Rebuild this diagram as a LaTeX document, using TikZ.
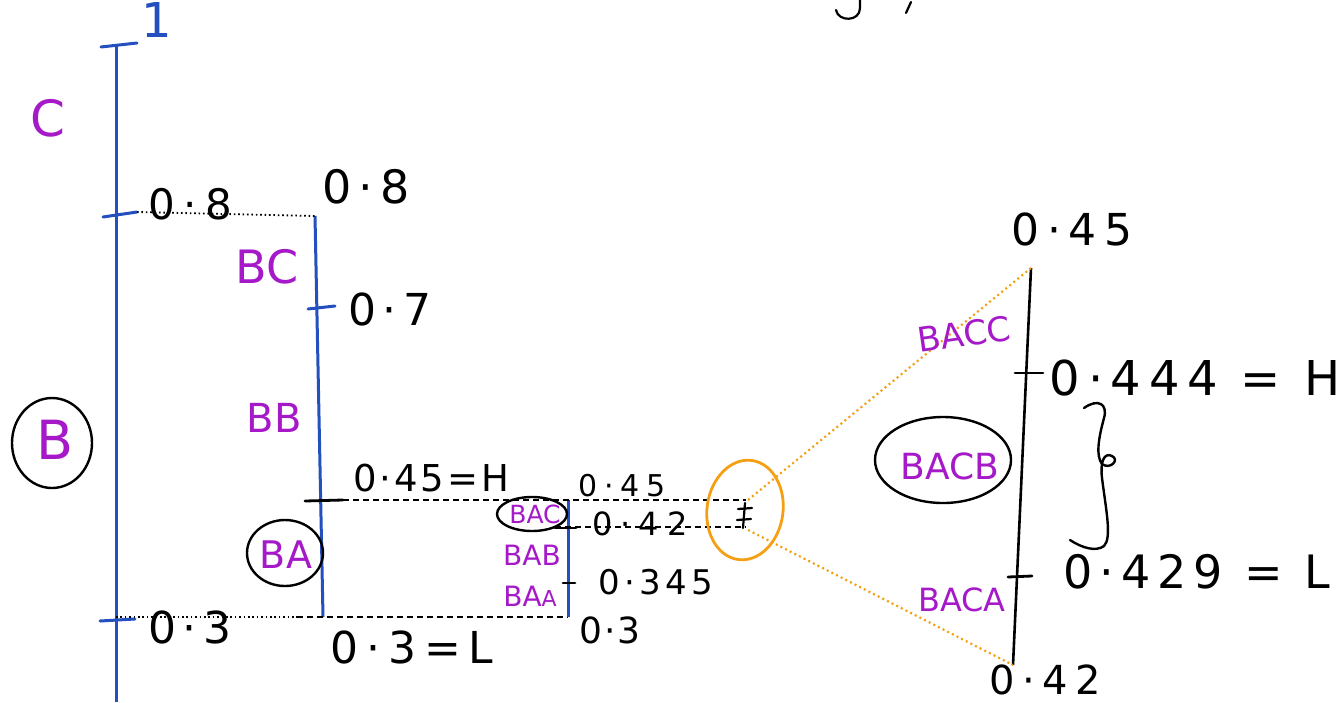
\documentclass[tikz,border=0pt]{standalone}
\usepackage{fontspec}
\setmainfont{DejaVu Sans}
\definecolor{axblue}{RGB}{35,80,190}
\definecolor{purp}{RGB}{165,25,200}
\definecolor{orng}{RGB}{245,160,20}
\newcommand{\fsz}[2]{\fontsize{#1}{#1}\selectfont\addfontfeature{LetterSpace=#2}}
\begin{document}
\begin{tikzpicture}[x=1pt,y=-1pt,
  bline/.style={draw=axblue,line width=3pt},
  kline/.style={draw=black,line width=2.6pt},
  ktick/.style={draw=black,line width=2.8pt,line cap=round},
  btick/.style={draw=axblue,line width=3pt,line cap=round},
  dotl/.style={draw=black,line width=1.8pt,dash pattern=on 1.6pt off 2.8pt},
  dashl/.style={draw=black,line width=2pt,dash pattern=on 6pt off 4pt},
  odot/.style={draw=orng,line width=2.2pt,dash pattern=on 2pt off 3.2pt},
  num/.style={inner sep=0pt,text=black},
  plbl/.style={inner sep=0pt,text=purp},
]
\useasboundingbox (0,0) rectangle (1343,702);
\fill[white] (0,0) rectangle (1343,702);

% top fragment of cut-off writing
\draw[kline,line width=2.2pt,line cap=round] (860,0) -- (860,8) .. controls (860,22) and (838,22) .. (836,10);
\draw[kline,line width=2.2pt,line cap=round] (911,2) -- (906,13);

% left axis
\coordinate (a1) at (116,45);
\coordinate (a0) at (116,702);
\draw[bline] (a1) -- (a0);
\coordinate (t1a) at (101,47); \coordinate (t1b) at (137,43);
\draw[btick] (t1a) -- (t1b);
\coordinate (t8a) at (103,217); \coordinate (t8b) at (137,212);
\draw[btick] (t8a) -- (t8b);
\coordinate (t3a) at (100,621); \coordinate (t3b) at (135,619);
\draw[btick] (t3a) -- (t3b);
\node[inner sep=0pt,text=axblue,font=\fsz{48}{0}] (one) at (157,20) {1};
\node[plbl,font=\fsz{50}{0}] (lc) at (48,118) {C};
\node[plbl,font=\fsz{54}{0}] (lb) at (55,440) {B};
\draw[kline,line width=2.4pt] (52,443) ellipse [x radius=40,y radius=45];
\node[num,font=\fsz{42}{20}] (l08) at (190,204) {0·8};
\node[num,font=\fsz{44}{15}] (l03) at (190,627) {0·3};

% second axis
\coordinate (b8) at (315,216);
\coordinate (b3) at (323,617);
\draw[bline] (b8) -- (b3);
\coordinate (u7a) at (308,309); \coordinate (u7b) at (335,306);
\draw[btick] (u7a) -- (u7b);
\coordinate (u45a) at (305,501); \coordinate (u45b) at (343,500);
\draw[ktick] (u45a) -- (u45b);
\draw[dotl] (t8b) -- (b8);
\coordinate (dm) at (297,617);
\draw[dotl] (116,617) -- (dm);
\coordinate (c3) at (568,617);
\draw[dashl] (dm) -- (c3);
\node[num,font=\fsz{46}{15}] (r08) at (366,187) {0·8};
\node[plbl,font=\fsz{46}{0}] (lbc) at (267,267) {BC};
\node[num,font=\fsz{44}{15}] (r07) at (390,309) {0·7};
\node[plbl,font=\fsz{40}{0}] (lbb) at (274,418) {BB};
\node[num,font=\fsz{37}{8}] (r045) at (431,478) {0·45=H};
\node[plbl,font=\fsz{38}{0}] (lba) at (286,555) {BA};
\draw[kline,line width=2.4pt] (285,553) ellipse [x radius=38,y radius=33];
\node[num,font=\fsz{44}{18}] (r03) at (412,647) {0·3=L};

% third axis
\coordinate (c45) at (568,500);
\draw[bline] (c45) -- (c3);
\coordinate (end1) at (746,500);
\coordinate (end2) at (746,527);
\draw[dashl] (u45b) -- (end1);
\coordinate (c42) at (555,527);
\draw[dashl] (c42) -- (end2);
\coordinate (v42a) at (555,528); \coordinate (v42b) at (576,528);
\draw[ktick] (v42a) -- (v42b);
\coordinate (v345a) at (563,583); \coordinate (v345b) at (575,583);
\draw[ktick] (v345a) -- (v345b);
\node[num,font=\fsz{30}{22}] (m045) at (622,486) {0·45};
\node[num,font=\fsz{32}{25}] (m042) at (640,524) {0·42};
\node[num,font=\fsz{34}{13}] (m0345) at (656,582) {0·345};
\node[num,font=\fsz{36}{5}] (m03) at (610,630) {0·3};
\node[plbl,font=\fsz{25}{0}] (lbac) at (535,514) {BAC};
\draw[kline,line width=2.4pt] (532,514) ellipse [x radius=35,y radius=17];
\node[plbl,font=\fsz{28}{0}] (lbab) at (532,555) {BAB};
\node[plbl,font=\fsz{28}{0}] (lbaa) at (530,596) {BA\fontsize{22}{22}\selectfont A};

% zoom marker
\draw[ktick,line width=2.2pt] (745,503) -- (743,528);
\draw[ktick,line width=2.2pt] (738,509) -- (752,508);
\draw[ktick,line width=2.2pt] (737,520) -- (751,519);
\draw[draw=orng,line width=2.8pt,rotate around={-8:(745,510)}] (745,510) ellipse [x radius=38,y radius=50];

% zoomed axis
\coordinate (z45) at (1031,268);
\coordinate (z42) at (1013,665);
\draw[kline] (z45) -- (z42);
\coordinate (zst) at (748,500);
\coordinate (zsb) at (748,530);
\draw[odot] (zst) -- (z45);
\draw[odot] (zsb) -- (z42);
\coordinate (w444a) at (1015,373); \coordinate (w444b) at (1043,373);
\draw[ktick] (w444a) -- (w444b);
\coordinate (w429a) at (1008,577); \coordinate (w429b) at (1032,576);
\draw[ktick] (w429a) -- (w429b);
\node[num,font=\fsz{44}{18}] (z045) at (1072,229) {0·45};
\node[num,font=\fsz{48}{16}] (z0444) at (1195,378) {0·444 = H};
\node[num,font=\fsz{46}{15}] (z0429) at (1197,572) {0·429 = L};
\node[num,font=\fsz{40}{19}] (z042) at (1045,680) {0·42};
\node[plbl,font=\fsz{34}{0},rotate=8] (lbacc) at (964,334) {BACC};
\node[plbl,font=\fsz{36}{0}] (lbacb) at (950,466) {BACB};
\draw[kline,line width=2.4pt] (943,460) ellipse [x radius=68,y radius=43];
\node[plbl,font=\fsz{32}{0}] (lbaca) at (962,600) {BACA};

% brace
\draw[kline,line width=2.4pt,line cap=round]
  (1084,408) .. controls (1098,398) and (1108,404) .. (1104,418)
  .. controls (1098,440) and (1096,456) .. (1102,464)
  .. controls (1110,470) and (1120,460) .. (1112,456)
  .. controls (1104,452) and (1100,462) .. (1102,478)
  .. controls (1106,510) and (1112,538) .. (1104,546)
  .. controls (1096,552) and (1082,548) .. (1070,540);
\end{tikzpicture}
\end{document}
